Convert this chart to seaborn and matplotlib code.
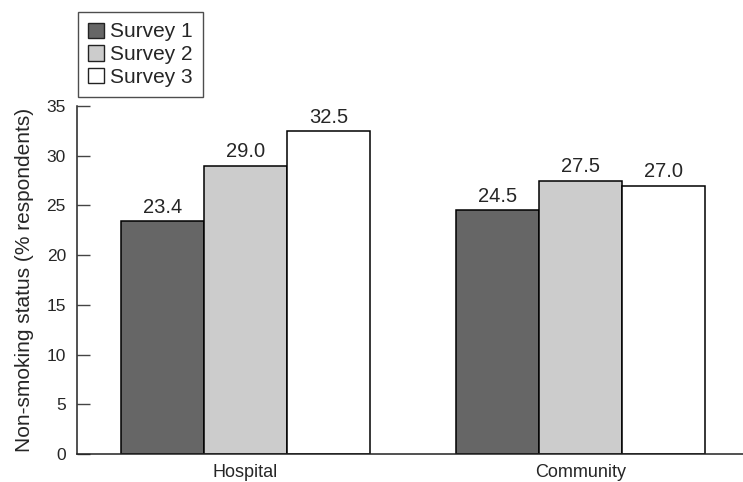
import matplotlib
matplotlib.use("Agg")
import matplotlib.pyplot as plt
import seaborn as sns
import pandas as pd
from matplotlib.patches import Patch

settings = ["Hospital", "Community"]
surveys = ["Survey 1", "Survey 2", "Survey 3"]
survey1 = [23.4, 24.5]
survey2 = [29.0, 27.5]
survey3 = [32.5, 27.0]
colors = ["#666666", "#cccccc", "#ffffff"]
yticks = [0, 5, 10, 15, 20, 25, 30, 35]

rows = []
for s, vals in zip(surveys, [survey1, survey2, survey3]):
    for g, v in zip(settings, vals):
        rows.append({"Setting": g, "Survey": s, "Value": v})
df = pd.DataFrame(rows)

sns.set_style("white")
plt.rcParams["font.family"] = ["Liberation Sans", "DejaVu Sans"]

fig = plt.figure(figsize=(7.43, 4.82), dpi=100)
ax = fig.add_axes([77 / 743, 28 / 482, 1 - 77 / 743, (454 - 106) / 482])

sns.barplot(data=df, x="Setting", y="Value", hue="Survey", order=settings,
            hue_order=surveys, palette=colors, width=0.743, gap=0,
            edgecolor="black", linewidth=1.1, ax=ax, legend=False, errorbar=None)

for cont in ax.containers:
    ax.bar_label(cont, fmt="%.1f", padding=3, fontsize=14.5)

ax.set_ylim(0, 35)
ax.set_xlim(-0.503, 1.485)
ax.set_yticks(yticks)
ax.set_xlabel("")
ax.set_ylabel("Non-smoking status (% respondents)", fontsize=15, labelpad=9)

ax.tick_params(axis="y", direction="in", length=9, width=1, color="#444444", pad=8, left=True,
               labelsize=12.5)
ax.tick_params(axis="x", length=0, pad=7, labelsize=13)
for side in ["top", "right"]:
    ax.spines[side].set_visible(False)
for side in ["left", "bottom"]:
    ax.spines[side].set_color("#222222")
    ax.spines[side].set_linewidth(1.1)

handles = [Patch(facecolor=c, edgecolor="#222222", linewidth=1.0) for c in colors]
leg = fig.legend(handles, surveys, loc="upper left", bbox_to_anchor=(78 / 743, 1 - 12 / 482),
                 frameon=True, fancybox=False, fontsize=15, handlelength=0.75, handleheight=0.75,
                 handletextpad=0.3, labelspacing=0.18, borderpad=0.5, borderaxespad=0)
leg.get_frame().set_edgecolor("#222222")
leg.get_frame().set_linewidth(1.0)

fig.savefig("out.png", dpi=100)
